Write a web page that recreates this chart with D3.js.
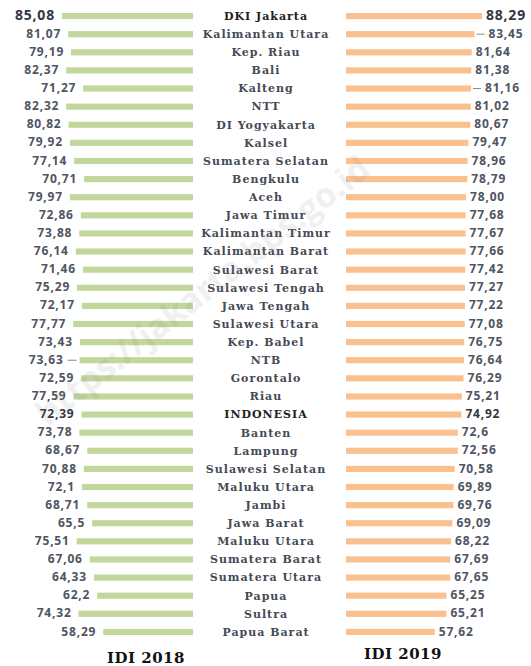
<!DOCTYPE html>
<meta charset="utf-8">
<script src="https://d3js.org/d3.v7.min.js"></script>
<style>
  body { margin: 0; background: #fff; }
</style>
<div id="my_dataviz"></div>
<script>

// provinces, top to bottom (ranked by IDI 2019)
var provinces = ["DKI Jakarta", "Kalimantan Utara", "Kep. Riau", "Bali", "Kalteng", "NTT",
  "DI Yogyakarta", "Kalsel", "Sumatera Selatan", "Bengkulu", "Aceh", "Jawa Timur",
  "Kalimantan Timur", "Kalimantan Barat", "Sulawesi Barat", "Sulawesi Tengah", "Jawa Tengah",
  "Sulawesi Utara", "Kep. Babel", "NTB", "Gorontalo", "Riau", "INDONESIA", "Banten",
  "Lampung", "Sulawesi Selatan", "Maluku Utara", "Jambi", "Jawa Barat", "Maluku Utara",
  "Sumatera Barat", "Sumatera Utara", "Papua", "Sultra", "Papua Barat"];

var idi2018 = [85.08, 81.07, 79.19, 82.37, 71.27, 82.32, 80.82, 79.92, 77.14, 70.71,
  79.97, 72.86, 73.88, 76.14, 71.46, 75.29, 72.17, 77.77, 73.43, 73.63,
  72.59, 77.59, 72.39, 73.78, 68.67, 70.88, 72.1, 68.71, 65.5, 75.51,
  67.06, 64.33, 62.2, 74.32, 58.29];

var idi2019 = [88.29, 83.45, 81.64, 81.38, 81.16, 81.02, 80.67, 79.47, 78.96, 78.79,
  78.00, 77.68, 77.67, 77.66, 77.42, 77.27, 77.22, 77.08, 76.75, 76.64,
  76.29, 75.21, 74.92, 72.6, 72.56, 70.58, 69.89, 69.76, 69.09, 68.22,
  67.69, 67.65, 65.25, 65.21, 57.62];

var seriesTitles = ["IDI 2018", "IDI 2019"];

// rows that get a bold/dark label
var highlight = ["DKI Jakarta", "INDONESIA"];
// rows with a small leader line next to the label
var leader2018 = ["NTB"];
var leader2019 = ["Kalimantan Utara", "Kalteng"];

var width = 531, height = 666;

var svg = d3.select("#my_dataviz")
  .append("svg")
    .attr("width", width)
    .attr("height", height);

// one band per row (index based, the names are not unique)
var y = d3.scaleBand()
  .domain(d3.range(provinces.length))
  .range([13, 635])
  .paddingInner(0.66);

// bar length, same scale for both years
var len = d3.scaleLinear()
  .domain([0, 100])
  .range([0, 154]);

var leftEdge = 193, rightEdge = 346, mid = 266;

function fmt(v) {
  var s = Number.isInteger(v) ? v.toFixed(2) : String(v);
  return s.replace(".", ",");
}

var rows = svg.selectAll("g.row")
  .data(provinces.map(function(p, i) { return {name: p, i: i, a: idi2018[i], b: idi2019[i]}; }))
  .enter()
  .append("g")
    .attr("class", "row");

// green bars (2018), growing to the left
rows.append("rect")
  .attr("x", function(d) { return leftEdge - len(d.a); })
  .attr("y", function(d) { return y(d.i); })
  .attr("width", function(d) { return len(d.a); })
  .attr("height", y.bandwidth())
  .style("fill", "#c3d69b");

// orange bars (2019), growing to the right
rows.append("rect")
  .attr("x", rightEdge)
  .attr("y", function(d) { return y(d.i); })
  .attr("width", function(d) { return len(d.b); })
  .attr("height", y.bandwidth())
  .style("fill", "#fac090");

var valFont = "'Open Sans', sans-serif";

// 2018 values
rows.append("text")
  .attr("x", function(d) { return leftEdge - len(d.a) - (leader2018.indexOf(d.name) >= 0 ? 16 : 7); })
  .attr("y", function(d) { return y(d.i) + y.bandwidth() / 2; })
  .attr("dy", "0.3em")
  .attr("text-anchor", "end")
  .style("font-family", valFont)
  .style("font-weight", 700)
  .style("letter-spacing", "0.8px")
  .style("font-size", function(d) { return d.i === 0 ? "14px" : "12px"; })
  .style("fill", function(d) { return highlight.indexOf(d.name) >= 0 ? "#33363d" : "#4f5562"; })
  .text(function(d) { return fmt(d.a); });

// 2019 values
rows.append("text")
  .attr("x", function(d) { return rightEdge + len(d.b) + (leader2019.indexOf(d.name) >= 0 ? 14 : 4); })
  .attr("y", function(d) { return y(d.i) + y.bandwidth() / 2; })
  .attr("dy", "0.3em")
  .style("font-family", valFont)
  .style("font-weight", 700)
  .style("letter-spacing", "0.8px")
  .style("font-size", function(d) { return d.i === 0 ? "14px" : "12px"; })
  .style("fill", function(d) { return highlight.indexOf(d.name) >= 0 ? "#33363d" : "#4f5562"; })
  .text(function(d) { return fmt(d.b); });

// leader lines
rows.filter(function(d) { return leader2018.indexOf(d.name) >= 0; })
  .append("line")
    .attr("x1", function(d) { return leftEdge - len(d.a) - 12; })
    .attr("x2", function(d) { return leftEdge - len(d.a) - 3; })
    .attr("y1", function(d) { return y(d.i) + y.bandwidth() / 2; })
    .attr("y2", function(d) { return y(d.i) + y.bandwidth() / 2; })
    .style("stroke", "#888").style("stroke-width", 1);

rows.filter(function(d) { return leader2019.indexOf(d.name) >= 0; })
  .append("line")
    .attr("x1", function(d) { return rightEdge + len(d.b) + 2; })
    .attr("x2", function(d) { return rightEdge + len(d.b) + 10; })
    .attr("y1", function(d) { return y(d.i) + y.bandwidth() / 2; })
    .attr("y2", function(d) { return y(d.i) + y.bandwidth() / 2; })
    .style("stroke", "#888").style("stroke-width", 1);

// province names in the middle
rows.append("text")
  .attr("x", mid)
  .attr("y", function(d) { return y(d.i) + y.bandwidth() / 2; })
  .attr("dy", "0.35em")
  .attr("text-anchor", "middle")
  .style("font-family", "'DejaVu Serif', serif")
  .style("font-weight", 700)
  .style("font-size", "11px")
  .style("letter-spacing", "1px")
  .style("fill", function(d) { return highlight.indexOf(d.name) >= 0 ? "#222" : "#454a55"; })
  .text(function(d) { return d.name; });

// titles under each half
svg.selectAll("text.title")
  .data(seriesTitles)
  .enter()
  .append("text")
    .attr("class", "title")
    .attr("x", function(d, i) { return i === 0 ? 146 : 403; })
    .attr("y", function(d, i) { return i === 0 ? 663 : 659; })
    .attr("text-anchor", "middle")
    .style("font-family", "'DejaVu Serif', serif")
    .style("font-weight", 700)
    .style("font-size", "15px")
    .style("letter-spacing", "0.5px")
    .style("fill", "#111")
    .text(function(d) { return d; });

// faint watermark
svg.append("text")
  .attr("transform", "translate(210,300) rotate(-38)")
  .attr("text-anchor", "middle")
  .style("font-family", "'Open Sans', sans-serif")
  .style("font-weight", 700)
  .style("font-size", "34px")
  .style("fill", "#8a8a8a")
  .style("opacity", 0.12)
  .text("https://jakarta.bps.go.id");

</script>
